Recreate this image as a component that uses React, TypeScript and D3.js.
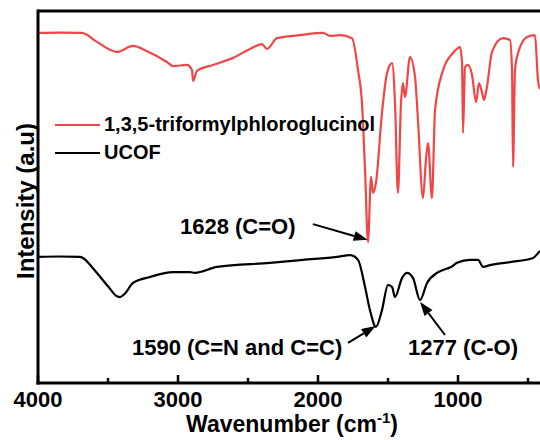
import React from "react";
import * as d3 from "d3";

// 1,3,5-triformylphloroglucinol spectrum [wavenumber, intensity (a.u.)]
const tfpWave = [4000, 3850, 3686, 3579, 3436, 3321, 3221, 3079, 3036, 2936, 2900, 2893, 2864, 2750, 2607, 2486, 2400, 2364, 2293, 2129, 1964, 1914, 1843, 1757, 1714, 1686, 1664, 1643, 1621, 1607, 1586, 1543, 1507, 1471, 1450, 1429, 1407, 1393, 1379, 1343, 1307, 1286, 1250, 1229, 1214, 1186, 1164, 1107, 1036, 986, 971, 964, 950, 929, 900, 871, 850, 829, 814, 793, 757, 679, 629, 614, 607, 593, 571, 507, 450, 429, 414];
const tfpValue = [9.41, 9.42, 9.41, 9.17, 8.90, 9.06, 8.92, 8.63, 8.52, 8.55, 8.41, 8.12, 8.39, 8.55, 8.74, 8.98, 9.11, 8.98, 9.27, 9.35, 9.41, 9.33, 9.35, 9.27, 8.41, 7.53, 5.73, 3.79, 5.54, 5.11, 5.38, 7.26, 8.33, 8.60, 7.53, 5.11, 7.53, 8.06, 7.69, 8.76, 8.23, 7.07, 4.97, 6.0, 6.45, 4.97, 7.34, 8.41, 8.87, 9.03, 8.60, 6.72, 8.49, 8.55, 8.28, 7.55, 8.06, 7.82, 7.61, 7.96, 8.90, 9.27, 9.22, 8.41, 5.81, 8.41, 8.87, 9.30, 9.35, 8.15, 7.9];

// UCOF spectrum
const ucofWave = [4000, 3850, 3700, 3679, 3600, 3500, 3436, 3414, 3380, 3321, 3200, 3036, 2914, 2880, 2721, 2343, 2107, 1864, 1771, 1714, 1664, 1629, 1586, 1543, 1500, 1471, 1450, 1400, 1364, 1321, 1271, 1221, 1150, 1107, 1050, 1007, 914, 857, 821, 771, 629, 464, 429, 414];
const ucofValue = [3.39, 3.40, 3.39, 3.36, 3.05, 2.60, 2.33, 2.31, 2.40, 2.69, 2.85, 2.98, 2.98, 2.96, 3.12, 3.23, 3.31, 3.39, 3.44, 3.31, 2.58, 1.96, 1.51, 1.96, 2.64, 2.58, 2.31, 2.82, 2.96, 2.82, 2.23, 2.69, 2.96, 3.04, 3.12, 3.23, 3.31, 3.31, 3.12, 3.17, 3.25, 3.36, 3.49, 3.55];

const seriesNames = ["1,3,5-triformylphloroglucinol", "UCOF"];
const seriesColors = ["#f24545", "#000000"];

const majorTicks = [4000, 3000, 2000, 1000];
const minorTicks = [3500, 2500, 1500, 500];

// annotations: label, label anchor [wave, value], arrow tail, arrow tip
const annLabels = ["1628 (C=O)", "1590 (C=N and C=C)", "1277 (C-O)"];
const annLabelPos = [[2986, 4.0], [3329, 0.75], [1357, 0.75]];
const annTail = [[2036, 4.27], [1786, 1.08], [1093, 1.29]];
const annTip = [[1645, 3.85], [1588, 1.53], [1271, 2.18]];

const W = 540, H = 440;
const left = 38, top = 11, bottom = 383, right = 542;
const FONT = "'Liberation Sans', Arial, sans-serif";

export default function App() {
  const x = d3.scaleLinear().domain([4000, 400]).range([left, right]);
  const y = d3.scaleLinear().domain([0, 10]).range([bottom, top]);
  const line = d3.line<[number, number]>().x(d => x(d[0])).y(d => y(d[1])).curve(d3.curveMonotoneX);
  const tfp = tfpWave.map((w, i) => [w, tfpValue[i]] as [number, number]);
  const ucof = ucofWave.map((w, i) => [w, ucofValue[i]] as [number, number]);

  const arrow = (i: number) => {
    const x1 = x(annTail[i][0]), y1 = y(annTail[i][1]);
    const x2 = x(annTip[i][0]), y2 = y(annTip[i][1]);
    const ang = Math.atan2(y2 - y1, x2 - x1);
    const L = 14, hw = 5;
    const bx = x2 - L * Math.cos(ang), by = y2 - L * Math.sin(ang);
    const p1 = [bx + hw * Math.sin(ang), by - hw * Math.cos(ang)];
    const p2 = [bx - hw * Math.sin(ang), by + hw * Math.cos(ang)];
    return (
      <g key={"a" + i}>
        <line x1={x1} y1={y1} x2={bx} y2={by} stroke="#000" strokeWidth={2} />
        <polygon points={`${x2},${y2} ${p1[0]},${p1[1]} ${p2[0]},${p2[1]}`} fill="#000" />
      </g>
    );
  };

  return (
    <svg width={W} height={H} style={{ position: "absolute", left: 0, top: 0, background: "#fff" }} fontFamily={FONT}>
      <defs>
        <clipPath id="plot">
          <rect x={left} y={top} width={right - left} height={bottom - top} />
        </clipPath>
      </defs>
      <rect x={0} y={0} width={W} height={H} fill="#fff" />
      <g clipPath="url(#plot)" fill="none" strokeLinejoin="round">
        <path d={line(tfp) || ""} stroke={seriesColors[0]} strokeWidth={2.2} />
        <path d={line(ucof) || ""} stroke={seriesColors[1]} strokeWidth={2.2} />
      </g>
      {/* spines */}
      <line x1={left} y1={top} x2={W} y2={top} stroke="#000" strokeWidth={3} />
      <line x1={left} y1={top - 1.5} x2={left} y2={bottom + 1.5} stroke="#000" strokeWidth={3} />
      <line x1={left - 1.5} y1={bottom} x2={W} y2={bottom} stroke="#000" strokeWidth={3} />
      {majorTicks.map(t => (
        <line key={"M" + t} x1={x(t)} x2={x(t)} y1={bottom} y2={bottom - 8} stroke="#000" strokeWidth={2.5} />
      ))}
      {minorTicks.map(t => (
        <line key={"m" + t} x1={x(t)} x2={x(t)} y1={bottom} y2={bottom - 5} stroke="#000" strokeWidth={2.5} />
      ))}
      {majorTicks.map(t => (
        <text key={"l" + t} x={x(t)} y={407} textAnchor="middle" fontSize={22} fontWeight="bold">{t}</text>
      ))}
      <text x={292} y={432} textAnchor="middle" fontSize={23} fontWeight="bold">
        Wavenumber (cm<tspan dy={-9} fontSize={15}>-1</tspan><tspan dy={9}>)</tspan>
      </text>
      <text transform={`translate(34,201) rotate(-90)`} textAnchor="middle" fontSize={24} fontWeight="bold">Intensity (a.u)</text>
      {/* legend */}
      {seriesNames.map((n, i) => (
        <g key={n}>
          <line x1={55} x2={100} y1={125 + i * 28} y2={125 + i * 28} stroke={seriesColors[i]} strokeWidth={2.2} />
          <text x={104} y={131 + i * 28} fontSize={20} fontWeight="bold">{n}</text>
        </g>
      ))}
      {/* annotations */}
      {annLabels.map((s, i) => (
        <text key={s} x={x(annLabelPos[i][0])} y={y(annLabelPos[i][1])} fontSize={22} fontWeight="bold">{s}</text>
      ))}
      {annLabels.map((_, i) => arrow(i))}
    </svg>
  );
}
